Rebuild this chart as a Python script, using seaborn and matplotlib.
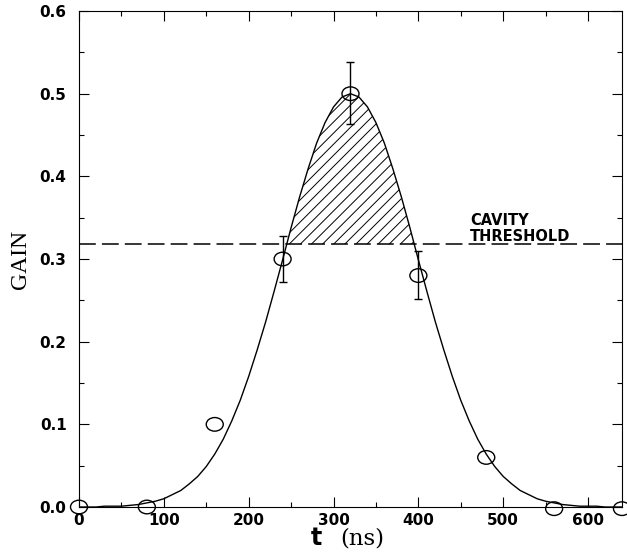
import matplotlib
matplotlib.use("Agg")
import matplotlib.pyplot as plt
from matplotlib.ticker import MultipleLocator, FormatStrFormatter
from matplotlib.path import Path
from matplotlib.transforms import Affine2D, ScaledTranslation
import numpy as np
import pandas as pd
import seaborn as sns

# measured gain points
t_meas = [0, 80, 160, 240, 320, 400, 480, 560, 640]
gain_meas = [0.0, 0.0, 0.10, 0.30, 0.50, 0.28, 0.06, -0.002, -0.002]

# error bars on three of them
t_err = [240, 320, 400]
gain_err = [0.30, 0.50, 0.28]
err_lo = [0.272, 0.463, 0.252]
err_hi = [0.328, 0.538, 0.310]

# fitted curve, every 10 ns
curve_t = [0, 10, 20, 30, 40, 50, 60, 70, 80, 90, 100, 110, 120, 130, 140, 150,
           160, 170, 180, 190, 200, 210, 220, 230, 240, 250, 260, 270, 280, 290,
           300, 310, 320, 330, 340, 350, 360, 370, 380, 390, 400, 410, 420, 430,
           440, 450, 460, 470, 480, 490, 500, 510, 520, 530, 540, 550, 560, 570,
           580, 590, 600, 610, 620, 630, 640]
curve_gain = [0.000, 0.000, 0.000, 0.001, 0.001, 0.001, 0.002, 0.003, 0.005,
              0.007, 0.010, 0.015, 0.020, 0.028, 0.037, 0.049, 0.064, 0.082,
              0.104, 0.129, 0.158, 0.190, 0.224, 0.261, 0.299, 0.338, 0.375,
              0.409, 0.440, 0.465, 0.484, 0.496, 0.500, 0.496, 0.484, 0.465,
              0.440, 0.409, 0.375, 0.338, 0.299, 0.261, 0.224, 0.190, 0.158,
              0.129, 0.104, 0.082, 0.064, 0.049, 0.037, 0.028, 0.020, 0.015,
              0.010, 0.007, 0.005, 0.003, 0.002, 0.001, 0.001, 0.001, 0.000,
              0.000, 0.000]

threshold = 0.318

sns.set_style("ticks")
plt.rcParams['font.family'] = ['DejaVu Sans']
plt.rcParams.update({'text.color': 'black', 'xtick.color': 'black',
                     'ytick.color': 'black', 'axes.labelcolor': 'black',
                     'hatch.linewidth': 0.7})

fig, ax = plt.subplots(figsize=(6.27, 5.52), dpi=100)
fig.subplots_adjust(left=0.126, right=0.992, bottom=0.0815, top=0.980)

curve = pd.DataFrame({"t": curve_t, "gain": curve_gain})
pts = pd.DataFrame({"t": t_meas, "gain": gain_meas})

sns.lineplot(data=curve, x="t", y="gain", color="black", lw=1.0, ax=ax, zorder=3)

cg = np.array(curve_gain)
ax.fill_between(curve_t, cg, threshold, where=cg > threshold, interpolate=True,
                facecolor="none", edgecolor="black", hatch="///", linewidth=0)

ax.axhline(threshold, color="black", lw=1.1, dashes=(11, 4), zorder=2)

ax.errorbar(t_err, gain_err,
            yerr=[np.array(gain_err) - np.array(err_lo), np.array(err_hi) - np.array(gain_err)],
            fmt="none", ecolor="black", elinewidth=1.0, capsize=3, capthick=1.0, zorder=4)

# slightly flattened open circle
oval = Path.unit_circle().transformed(Affine2D().scale(1.0, 0.8))
sns.scatterplot(data=pts, x="t", y="gain", marker=oval, s=150, facecolor="none",
                edgecolor="black", linewidth=1.0, clip_on=False, zorder=5, ax=ax)

ax.text(461, 0.322, "CAVITY\nTHRESHOLD", fontsize=10.5, fontweight="bold",
        ha="left", va="baseline", linespacing=1.1)

ax.set_xlim(0, 640)
ax.set_ylim(0, 0.6)
ax.xaxis.set_major_locator(MultipleLocator(100))
ax.xaxis.set_minor_locator(MultipleLocator(50))
ax.yaxis.set_major_locator(MultipleLocator(0.1))
ax.yaxis.set_minor_locator(MultipleLocator(0.05))
ax.yaxis.set_major_formatter(FormatStrFormatter("%.1f"))

ax.tick_params(which="both", direction="in", top=True, right=True, color="black", width=0.8)
ax.tick_params(which="major", length=7, labelsize=11)
ax.tick_params(which="minor", length=3.5)
ax.tick_params(axis="y", which="major", pad=9)
ax.tick_params(axis="x", which="major", pad=4)
plt.setp(ax.get_xticklabels(), fontweight="bold")
plt.setp(ax.get_yticklabels(), fontweight="bold")
# the 0.0 label sits a little above the axis in the original
y0 = ax.get_yticklabels()[0]
y0.set_transform(y0.get_transform() + ScaledTranslation(0, 6 / 72, fig.dpi_scale_trans))

for sp in ax.spines.values():
    sp.set_color("black")
    sp.set_linewidth(0.8)

ax.set_xlabel("")
ax.set_ylabel("")
fig.text(0.032, 0.53, "GAIN", rotation=90, ha="center", va="center",
         fontsize=17, family="Liberation Serif")
fig.text(0.504, 0.013, "t", ha="center", va="baseline", fontsize=17, fontweight="bold")
fig.text(0.577, 0.013, "(ns)", ha="center", va="baseline", fontsize=16.5, family="DejaVu Serif")

fig.savefig("out.png", dpi=100)
